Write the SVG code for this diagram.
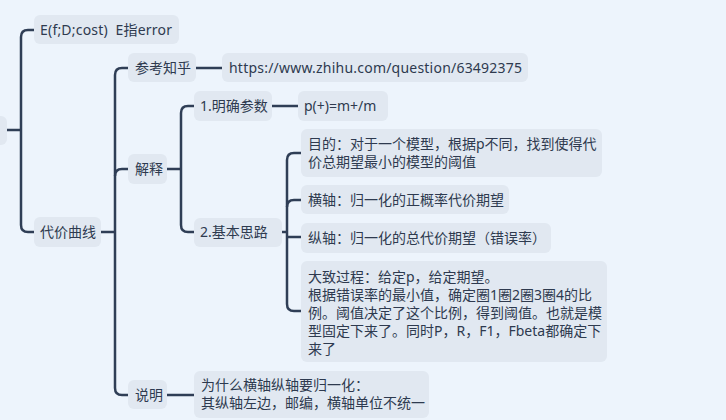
<svg xmlns="http://www.w3.org/2000/svg" width="726" height="420" viewBox="0 0 726 420">
<style>
.bg{fill:#EDF4FC}
.n{fill:#E1E8F1}
.t{font-family:"Noto Sans","Noto Sans CJK SC",sans-serif;font-size:14px;fill:#2E3A4F}
.c{fill:none;stroke:#2F3E56;stroke-width:2.5;stroke-linecap:butt}
</style>
<rect class="bg" x="0" y="0" width="726" height="420"/>
<g id="connectors">
<path class="c" d="M7,130 H21"/>
<path class="c" d="M34,30 H28 Q21,30 21,37 V225 Q21,232 28,232 H34"/>
<path class="c" d="M101,232 H115"/>
<path class="c" d="M128,68 H122 Q115,68 115,75 V388 Q115,395 122,395 H128"/>
<path class="c" d="M115,176 Q115,169 122,169 H128"/>
<path class="c" d="M196,68 H222"/>
<path class="c" d="M167,169 H181"/>
<path class="c" d="M194,106 H188 Q181,106 181,113 V225 Q181,232 188,232 H194"/>
<path class="c" d="M272,106 H298"/>
<path class="c" d="M282,232 H287"/>
<path class="c" d="M301,153 H294 Q287,153 287,160 V304 Q287,311 294,311 H301"/>
<path class="c" d="M287,207 Q287,200 294,200 H301"/>
<path class="c" d="M287,237 H301"/>
<path class="c" d="M167,395 H194"/>
</g>
<g id="root"><rect class="n" x="-20" y="116" width="27" height="29" rx="6"/></g>
<g id="n-e"><rect class="n" x="34" y="15" width="145" height="29" rx="6"/><text class="t" x="40" y="35" xml:space="preserve" textLength="132" lengthAdjust="spacing">E(f;D;cost)  E指error</text></g>
<g id="n-curve"><rect class="n" x="34" y="217" width="67" height="30" rx="6"/><text class="t" x="40" y="237">代价曲线</text></g>
<g id="n-ref"><rect class="n" x="128" y="53" width="68" height="29" rx="6"/><text class="t" x="135" y="73">参考知乎</text></g>
<g id="n-url"><rect class="n" x="222" y="53" width="306" height="29" rx="6"/><text class="t" x="229" y="73" textLength="293" lengthAdjust="spacing">https://www.zhihu.com/question/63492375</text></g>
<g id="n-explain"><rect class="n" x="128" y="154" width="39" height="30" rx="6"/><text class="t" x="135" y="174">解释</text></g>
<g id="n-param"><rect class="n" x="194" y="91" width="78" height="30" rx="6"/><text class="t" x="200" y="111">1.明确参数</text></g>
<g id="n-p"><rect class="n" x="298" y="91" width="90" height="30" rx="6"/><text class="t" x="304" y="111">p(+)=m+/m</text></g>
<g id="n-idea"><rect class="n" x="194" y="218" width="88" height="29" rx="6"/><text class="t" x="200" y="237">2.基本思路</text></g>
<g id="n-goal"><rect class="n" x="301" y="129" width="301" height="48" rx="6"/><text class="t" x="308" y="149"><tspan x="308">目的：对于一个模型，根据p不同，找到使得代</tspan><tspan x="308" dy="18">价总期望最小的模型的阈值</tspan></text></g>
<g id="n-x"><rect class="n" x="301" y="185" width="208" height="29" rx="6"/><text class="t" x="308" y="205">横轴：归一化的正概率代价期望</text></g>
<g id="n-y"><rect class="n" x="301" y="223" width="250" height="30" rx="6"/><text class="t" x="308" y="243">纵轴：归一化的总代价期望（错误率）</text></g>
<g id="n-process"><rect class="n" x="301" y="261" width="306" height="101" rx="6"/><text class="t" x="308" y="282"><tspan x="308">大致过程：给定p，给定期望。</tspan><tspan x="308" dy="18">根据错误率的最小值，确定圈1圈2圈3圈4的比</tspan><tspan x="308" dy="18">例。阈值决定了这个比例，得到阈值。也就是模</tspan><tspan x="308" dy="18">型固定下来了。同时P，R，F1，Fbeta都确定下</tspan><tspan x="308" dy="18">来了</tspan></text></g>
<g id="n-note"><rect class="n" x="128" y="380" width="39" height="29" rx="6"/><text class="t" x="135" y="400">说明</text></g>
<g id="n-why"><rect class="n" x="194" y="371" width="235" height="47" rx="6"/><text class="t" x="201" y="390"><tspan x="201">为什么横轴纵轴要归一化：</tspan><tspan x="201" dy="18">其纵轴左边，邮编，横轴单位不统一</tspan></text></g>
</svg>
